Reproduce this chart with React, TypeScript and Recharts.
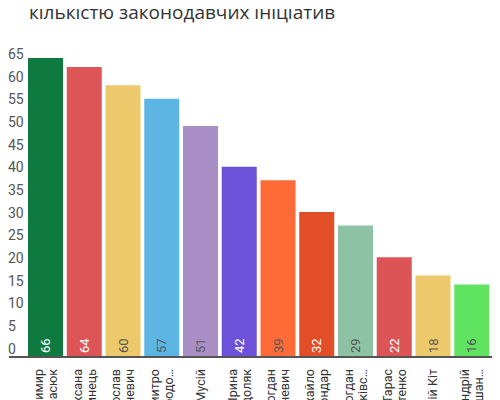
import { BarChart, Bar, XAxis, YAxis, Cell, LabelList } from 'recharts'

const names = [
  ['Володимир', 'Парасюк'],
  ['Оксана', 'Юринець'],
  ['Ярослав', 'Дубневич'],
  ['Дмитро', 'Добродо…'],
  ['Олег Мусій'],
  ['Ірина', 'Подоляк'],
  ['Богдан', 'Дубневич'],
  ['Михайло', 'Бондар'],
  ['Богдан', 'Матківс…'],
  ['Тарас', 'Батенко'],
  ['Юрій Кіт'],
  ['Андрій', 'Лопушан…'],
]
const values = [66, 64, 60, 57, 51, 42, 39, 32, 29, 22, 18, 16]
const colors = [
  '#0e7a3f', '#de5557', '#eec96b', '#5db5e3', '#a98fc6', '#6b52d9',
  '#fe6b36', '#e24e27', '#8ec2a5', '#dd5457', '#eec96b', '#60e360',
]
const labelColors = [
  '#fff', '#fff', '#555', '#555', '#555', '#fff',
  '#555', '#fff', '#555', '#fff', '#555', '#555',
]
const yTicks = [0, 5, 10, 15, 20, 25, 30, 35, 40, 45, 50, 55, 60, 65]

const data = values.map((v, i) => ({ idx: i, value: v }))

const font = 'Roboto, sans-serif'

function NameTick({ x, y, payload }: any) {
  const lines = names[payload.value] ?? []
  const n = lines.length
  return (
    <g transform={`translate(${x},${y + 4})`}>
      <text transform="rotate(-90)" textAnchor="end" fontSize={12.5} fontFamily={font} fill="#333">
        {lines.map((l, i) => (
          <tspan key={i} x={0} y={(i - (n - 1) / 2) * 14 + 4.5}>
            {l}
          </tspan>
        ))}
      </text>
    </g>
  )
}

function ValueTick({ y, payload }: any) {
  return (
    <text x={0} y={y - 8} dy={4.5} textAnchor="start" fontSize={14} fontFamily={font} fill="#555">
      {payload.value}
    </text>
  )
}

function ValueLabel({ x, y, width, height, value, index }: any) {
  const cx = x + width / 2
  const bottom = y + height - 4
  return (
    <text
      transform={`translate(${cx + 4.5},${bottom}) rotate(-90)`}
      textAnchor="start"
      fontSize={13}
      fontFamily={font}
      fill={labelColors[index]}
    >
      {value}
    </text>
  )
}

export default function App() {
  return (
    <div style={{ position: 'relative', width: 492, height: 392, fontFamily: font }}>
      <BarChart
        width={492}
        height={400}
        data={data}
        margin={{ top: 50, right: 5, bottom: 0, left: 0 }}
        barCategoryGap={2}
      >
        <XAxis
          dataKey="idx"
          type="category"
          padding={{ left: 17, right: 4 }}
          tickLine={false}
          axisLine={{ stroke: '#555', strokeWidth: 2 }}
          tick={<NameTick />}
          interval={0}
          height={51}
        />
        <YAxis
          width={1}
          domain={[0, 66]}
          ticks={yTicks}
          axisLine={false}
          tickLine={false}
          tick={<ValueTick />}
          interval={0}
        />
        <Bar dataKey="value" isAnimationActive={false}>
          {data.map((_d, i) => (
            <Cell key={i} fill={colors[i]} />
          ))}
          <LabelList dataKey="value" content={<ValueLabel />} />
        </Bar>
      </BarChart>
      <div
        style={{
          position: 'absolute',
          left: 21,
          top: -8,
          zIndex: 1,
          fontFamily: '"Open Sans", sans-serif',
          fontSize: 19,
          lineHeight: '24px',
          color: '#333',
          whiteSpace: 'nowrap',
        }}
      >
        кількістю законодавчих ініціатив
      </div>
    </div>
  )
}
